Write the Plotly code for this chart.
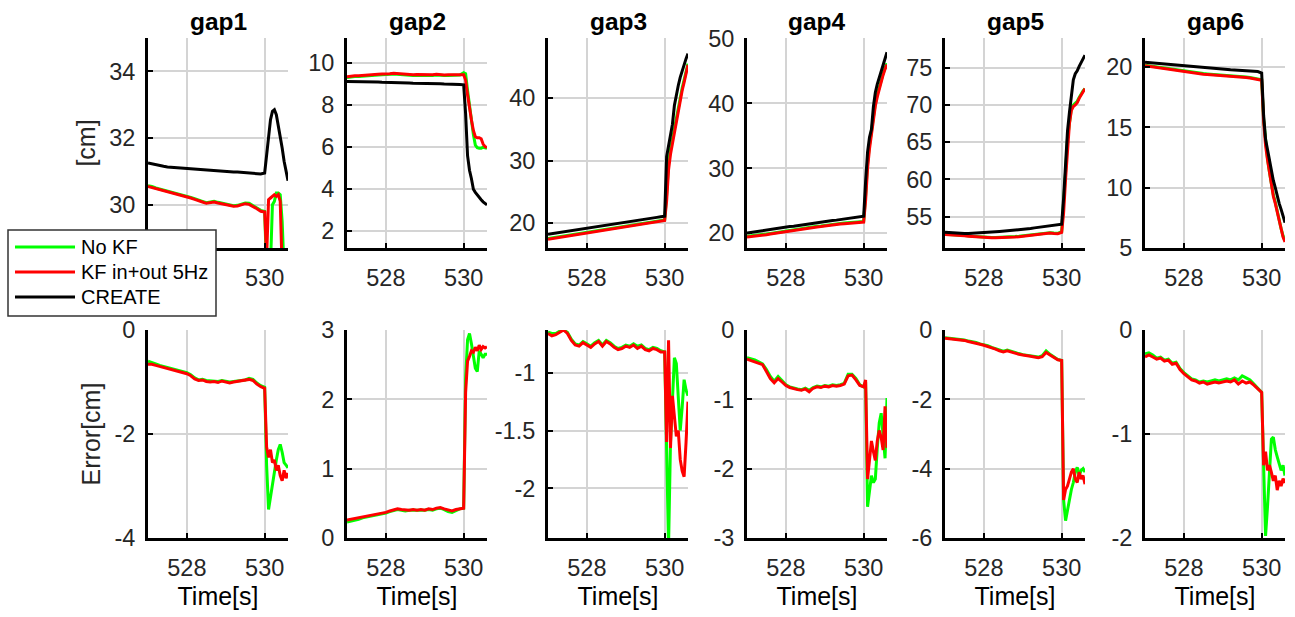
import plotly.graph_objects as go
from plotly.subplots import make_subplots

# ---------------------------------------------------------------- data
# common time base [s]
T = [527.0, 527.1, 527.2, 527.3, 527.4, 527.5, 527.6, 527.7, 527.8, 527.9,
     528.0, 528.1, 528.2, 528.3, 528.4, 528.5, 528.6, 528.7, 528.8, 528.9,
     529.0, 529.1, 529.2, 529.3, 529.4, 529.5, 529.6, 529.7, 529.8, 529.9,
     530.0, 530.05, 530.1, 530.15, 530.2, 530.25, 530.3, 530.35, 530.4, 530.45,
     530.5, 530.55, 530.6]

GAPS = ["gap1", "gap2", "gap3", "gap4", "gap5", "gap6"]
SERIES = ["No KF", "KF in+out 5Hz", "CREATE"]

# gap values [cm]
gap1_nokf = [30.57, 30.55, 30.50, 30.47, 30.45, 30.40, 30.38, 30.36, 30.32, 30.30,
             30.26, 30.22, 30.18, 30.13, 30.10, 30.06, 30.08, 30.10, 30.07, 30.05,
             30.02, 29.99, 29.97, 29.98, 30.02, 30.05, 30.04, 29.97, 29.90, 29.83,
             29.80, 28.0, 28.0, 28.2, 30.0, 30.1, 30.35, 30.35, 30.3, 29.5, 28.0, 28.0, 28.0]
gap1_kf = [30.55, 30.52, 30.48, 30.45, 30.42, 30.38, 30.36, 30.33, 30.30, 30.27,
           30.24, 30.20, 30.16, 30.11, 30.08, 30.04, 30.06, 30.08, 30.05, 30.02,
           30.00, 29.97, 29.95, 29.96, 30.00, 30.03, 30.01, 29.95, 29.88, 29.80,
           29.78, 28.4, 30.15, 30.2, 30.25, 30.3, 30.25, 30.3, 30.1, 28.0, 28.0, 28.0, 28.0]
gap1_create = [31.25, 31.22, 31.19, 31.17, 31.15, 31.13, 31.12, 31.11, 31.10, 31.09,
               31.08, 31.07, 31.06, 31.05, 31.04, 31.04, 31.03, 31.02, 31.01, 31.01,
               31.00, 30.99, 30.98, 30.98, 30.97, 30.96, 30.95, 30.94, 30.93, 30.92,
               30.95, 31.5, 32.1, 32.55, 32.8, 32.85, 32.7, 32.4, 32.0, 31.7, 31.3, 31.0, 30.72]

gap2_nokf = [9.32, 9.35, 9.37, 9.37, 9.39, 9.41, 9.42, 9.42, 9.44, 9.45,
             9.45, 9.47, 9.49, 9.47, 9.45, 9.44, 9.43, 9.42, 9.43, 9.42,
             9.42, 9.43, 9.42, 9.44, 9.42, 9.41, 9.42, 9.43, 9.42, 9.44,
             9.55, 9.50, 8.7, 7.9, 7.2, 6.6, 6.1, 5.98, 5.95, 5.95, 6.0, 5.97, 5.95]
gap2_kf = [9.35, 9.38, 9.40, 9.40, 9.42, 9.44, 9.45, 9.45, 9.47, 9.48,
           9.48, 9.50, 9.52, 9.50, 9.48, 9.47, 9.46, 9.45, 9.46, 9.45,
           9.45, 9.46, 9.45, 9.47, 9.45, 9.44, 9.45, 9.46, 9.45, 9.45,
           9.45, 9.2, 8.5, 7.8, 7.3, 6.8, 6.5, 6.45, 6.45, 6.4, 6.15, 6.03, 5.98]
gap2_create = [9.13, 9.13, 9.12, 9.12, 9.11, 9.11, 9.10, 9.10, 9.10, 9.09,
               9.09, 9.08, 9.08, 9.07, 9.07, 9.06, 9.06, 9.05, 9.05, 9.04,
               9.04, 9.03, 9.03, 9.02, 9.02, 9.01, 9.01, 9.00, 9.00, 8.99,
               8.97, 7.6, 5.6, 4.9, 4.5, 4.0, 3.85, 3.72, 3.6, 3.5, 3.4, 3.3, 3.25]

gap3_nokf = [17.5, 17.6, 17.7, 17.8, 17.95, 18.05, 18.15, 18.25, 18.4, 18.5,
             18.6, 18.7, 18.8, 18.9, 19.0, 19.1, 19.15, 19.25, 19.35, 19.45,
             19.55, 19.65, 19.7, 19.8, 19.9, 20.0, 20.1, 20.2, 20.3, 20.4,
             20.5, 24.5, 29.5, 31.8, 33.5, 35.2, 37.0, 38.7, 40.3, 41.6, 42.9, 44.2, 45.5]
gap3_kf = [17.4, 17.5, 17.6, 17.7, 17.85, 17.95, 18.05, 18.15, 18.3, 18.4,
           18.5, 18.6, 18.7, 18.8, 18.9, 19.0, 19.05, 19.15, 19.25, 19.35,
           19.45, 19.55, 19.6, 19.7, 19.8, 19.9, 20.0, 20.1, 20.2, 20.3,
           20.4, 23.5, 28.5, 31.0, 32.7, 34.5, 36.5, 38.2, 39.8, 41.2, 42.5, 43.9, 45.3]
gap3_create = [18.2, 18.3, 18.4, 18.5, 18.6, 18.7, 18.8, 18.9, 19.0, 19.1,
               19.2, 19.3, 19.4, 19.5, 19.6, 19.7, 19.8, 19.9, 20.0, 20.1,
               20.2, 20.3, 20.35, 20.45, 20.5, 20.6, 20.7, 20.8, 20.9, 21.0,
               21.1, 30.6, 32.5, 34.2, 35.8, 38.8, 40.6, 42.0, 43.3, 44.4, 45.4, 46.3, 47.1]

gap4_nokf = [19.5, 19.55, 19.6, 19.7, 19.75, 19.85, 19.95, 20.05, 20.1, 20.2,
             20.3, 20.4, 20.5, 20.6, 20.65, 20.75, 20.85, 20.95, 21.05, 21.1,
             21.2, 21.3, 21.35, 21.4, 21.5, 21.55, 21.6, 21.65, 21.7, 21.7,
             21.8, 25.8, 30.8, 33.6, 36.0, 38.2, 40.0, 41.4, 42.6, 43.6, 44.6, 45.5, 46.2]
gap4_kf = [19.4, 19.45, 19.5, 19.6, 19.65, 19.75, 19.85, 19.95, 20.0, 20.1,
           20.2, 20.3, 20.4, 20.5, 20.55, 20.65, 20.75, 20.85, 20.95, 21.0,
           21.1, 21.2, 21.25, 21.3, 21.4, 21.45, 21.5, 21.55, 21.6, 21.6,
           21.7, 25.0, 30.0, 33.0, 35.5, 37.8, 39.6, 41.0, 42.3, 43.4, 44.4, 45.3, 46.0]
gap4_create = [20.0, 20.1, 20.2, 20.25, 20.35, 20.45, 20.55, 20.6, 20.7, 20.8,
               20.9, 21.0, 21.05, 21.15, 21.25, 21.35, 21.4, 21.5, 21.6, 21.7,
               21.75, 21.85, 21.95, 22.0, 22.1, 22.2, 22.25, 22.35, 22.45, 22.5,
               22.6, 28.0, 32.5, 34.8, 36.0, 39.5, 41.7, 43.0, 44.0, 45.2, 46.0, 47.0, 47.9]

gap5_nokf = [52.65, 52.63, 52.6, 52.55, 52.52, 52.48, 52.43, 52.38, 52.33, 52.29,
             52.25, 52.23, 52.22, 52.21, 52.22, 52.25, 52.27, 52.3, 52.33, 52.37,
             52.43, 52.47, 52.51, 52.57, 52.63, 52.7, 52.77, 52.85, 52.8, 52.77,
             53.0, 56.5, 61.0, 65.5, 68.0, 69.6, 70.0, 70.2, 70.5, 71.0, 71.5, 71.9, 72.2]
gap5_kf = [52.6, 52.58, 52.55, 52.5, 52.47, 52.43, 52.38, 52.33, 52.28, 52.24,
           52.2, 52.18, 52.17, 52.16, 52.17, 52.2, 52.22, 52.25, 52.28, 52.32,
           52.38, 52.42, 52.46, 52.52, 52.58, 52.65, 52.72, 52.8, 52.75, 52.72,
           52.9, 55.5, 60.0, 64.5, 67.5, 69.3, 69.8, 70.0, 70.3, 70.9, 71.4, 71.9, 72.2]
gap5_create = [52.9, 52.85, 52.8, 52.78, 52.76, 52.75, 52.76, 52.78, 52.8, 52.83,
               52.86, 52.9, 52.94, 52.98, 53.02, 53.06, 53.1, 53.15, 53.2, 53.25,
               53.3, 53.35, 53.42, 53.5, 53.56, 53.62, 53.7, 53.76, 53.82, 53.9,
               54.0, 57.5, 63.0, 66.5, 69.0, 71.5, 73.4, 74.2, 74.6, 75.2, 75.7, 76.2, 76.7]

gap6_nokf = [20.15, 20.1, 20.05, 20.0, 19.95, 19.9, 19.85, 19.8, 19.75, 19.7,
             19.65, 19.6, 19.55, 19.5, 19.47, 19.45, 19.42, 19.4, 19.38, 19.35,
             19.33, 19.3, 19.27, 19.25, 19.23, 19.2, 19.17, 19.13, 19.09, 19.05,
             18.95, 15.7, 13.7, 12.4, 11.3, 10.3, 9.4, 8.8, 8.0, 7.3, 6.6, 6.0, 5.6]
gap6_kf = [20.1, 20.05, 20.0, 19.95, 19.9, 19.85, 19.8, 19.75, 19.7, 19.65,
           19.6, 19.55, 19.5, 19.45, 19.42, 19.4, 19.37, 19.35, 19.33, 19.3,
           19.28, 19.25, 19.22, 19.2, 19.18, 19.15, 19.12, 19.08, 19.04, 19.0,
           18.9, 15.5, 13.5, 12.3, 11.2, 10.2, 9.3, 8.7, 7.9, 7.3, 6.6, 5.9, 5.5]
gap6_create = [20.4, 20.37, 20.34, 20.3, 20.27, 20.24, 20.2, 20.17, 20.14, 20.1,
               20.07, 20.04, 20.0, 19.97, 19.94, 19.92, 19.9, 19.87, 19.85, 19.82,
               19.8, 19.78, 19.76, 19.74, 19.72, 19.7, 19.68, 19.66, 19.64, 19.62,
               19.5, 16.0, 14.0, 13.1, 12.2, 11.3, 10.6, 10.0, 9.3, 8.7, 8.2, 7.6, 7.1]

# estimation error [cm]
err1_nokf = [-0.60, -0.62, -0.65, -0.68, -0.70, -0.72, -0.74, -0.76, -0.78, -0.80,
             -0.82, -0.86, -0.92, -0.96, -0.95, -0.97, -0.98, -0.98, -0.99, -0.97,
             -0.98, -1.00, -0.99, -0.98, -0.97, -0.96, -0.93, -0.95, -1.02, -1.07,
             -1.10, -2.6, -3.45, -3.2, -3.0, -2.7, -2.5, -2.3, -2.2, -2.35, -2.55, -2.6, -2.65]
err1_kf = [-0.66, -0.66, -0.68, -0.70, -0.72, -0.74, -0.76, -0.79, -0.80, -0.82,
           -0.84, -0.88, -0.94, -0.97, -0.96, -0.99, -1.00, -0.99, -1.01, -0.98,
           -1.00, -1.02, -1.00, -0.99, -0.98, -0.97, -0.95, -0.97, -1.04, -1.09,
           -1.12, -2.25, -2.45, -2.3, -2.55, -2.5, -2.7, -2.6, -2.8, -2.9, -2.7, -2.85, -2.75]

err2_nokf = [0.23, 0.24, 0.26, 0.27, 0.29, 0.30, 0.31, 0.33, 0.34, 0.35,
             0.36, 0.38, 0.40, 0.41, 0.40, 0.39, 0.40, 0.40, 0.39, 0.40,
             0.40, 0.41, 0.40, 0.42, 0.43, 0.41, 0.38, 0.37, 0.40, 0.42,
             0.43, 2.3, 2.86, 2.95, 2.8, 2.62, 2.45, 2.4, 2.7, 2.65, 2.6, 2.65, 2.65]
err2_kf = [0.26, 0.27, 0.28, 0.29, 0.30, 0.31, 0.32, 0.34, 0.35, 0.36,
           0.37, 0.39, 0.41, 0.42, 0.41, 0.40, 0.40, 0.41, 0.40, 0.41,
           0.40, 0.42, 0.41, 0.43, 0.44, 0.42, 0.40, 0.39, 0.41, 0.42,
           0.43, 2.1, 2.55, 2.62, 2.7, 2.68, 2.75, 2.7, 2.78, 2.72, 2.76, 2.74, 2.76]

err3_nokf = [-0.65, -0.66, -0.66, -0.64, -0.63, -0.65, -0.71, -0.75, -0.76, -0.73,
             -0.75, -0.77, -0.74, -0.72, -0.76, -0.72, -0.74, -0.77, -0.79, -0.78,
             -0.76, -0.77, -0.75, -0.77, -0.76, -0.79, -0.80, -0.78, -0.79, -0.81,
             -0.82, -1.7, -2.5, -1.6, -1.2, -0.87, -0.92, -1.2, -1.5, -1.3, -1.06, -1.15, -1.2]
err3_kf = [-0.66, -0.68, -0.67, -0.65, -0.63, -0.66, -0.72, -0.76, -0.77, -0.74,
           -0.76, -0.78, -0.75, -0.73, -0.77, -0.73, -0.75, -0.78, -0.80, -0.79,
           -0.77, -0.78, -0.76, -0.79, -0.77, -0.80, -0.81, -0.79, -0.80, -0.82,
           -0.82, -1.6, -0.72, -1.65, -1.2, -1.35, -1.55, -1.5, -1.75, -1.85, -1.9, -1.6, -1.25]

err4_nokf = [-0.40, -0.41, -0.43, -0.46, -0.49, -0.57, -0.67, -0.74, -0.67, -0.73,
             -0.79, -0.82, -0.84, -0.85, -0.86, -0.84, -0.87, -0.83, -0.81, -0.82,
             -0.80, -0.81, -0.79, -0.80, -0.79, -0.77, -0.64, -0.64, -0.70, -0.79,
             -0.82, -0.75, -2.55, -2.3, -2.1, -2.2, -2.15, -1.7, -1.34, -1.2, -1.5, -1.85, -0.98]
err4_kf = [-0.42, -0.44, -0.46, -0.48, -0.50, -0.60, -0.70, -0.76, -0.70, -0.75,
           -0.80, -0.83, -0.85, -0.86, -0.87, -0.85, -0.89, -0.84, -0.82, -0.83,
           -0.81, -0.82, -0.80, -0.81, -0.80, -0.78, -0.66, -0.65, -0.72, -0.80,
           -0.82, -0.72, -2.15, -1.9, -1.6, -1.75, -1.88, -1.6, -1.45, -1.55, -1.73, -1.1, -1.7]

err5_nokf = [-0.22, -0.23, -0.25, -0.26, -0.27, -0.29, -0.32, -0.33, -0.36, -0.40,
             -0.42, -0.45, -0.50, -0.54, -0.58, -0.61, -0.58, -0.62, -0.66, -0.68,
             -0.71, -0.73, -0.75, -0.77, -0.78, -0.74, -0.60, -0.70, -0.78, -0.85,
             -0.88, -4.9, -5.5, -5.2, -4.8, -4.6, -4.4, -4.1, -3.96, -4.2, -4.05, -4.0, -4.1]
err5_kf = [-0.24, -0.25, -0.26, -0.27, -0.28, -0.30, -0.33, -0.35, -0.38, -0.41,
           -0.44, -0.47, -0.52, -0.55, -0.60, -0.63, -0.60, -0.64, -0.68, -0.70,
           -0.72, -0.75, -0.76, -0.78, -0.80, -0.77, -0.65, -0.72, -0.80, -0.86,
           -0.88, -4.9, -4.6, -4.5, -4.3, -4.1, -4.0, -4.3, -4.4, -4.1, -4.3, -4.2, -4.45]

err6_nokf = [-0.23, -0.22, -0.24, -0.27, -0.26, -0.29, -0.28, -0.32, -0.31, -0.37,
             -0.41, -0.44, -0.47, -0.48, -0.50, -0.49, -0.50, -0.49, -0.48, -0.49,
             -0.48, -0.47, -0.48, -0.46, -0.48, -0.44, -0.46, -0.48, -0.52, -0.56,
             -0.60, -1.3, -1.98, -1.7, -1.3, -1.05, -1.03, -1.15, -1.22, -1.28, -1.35, -1.3, -1.4]
err6_kf = [-0.26, -0.24, -0.26, -0.28, -0.27, -0.30, -0.29, -0.33, -0.32, -0.38,
           -0.42, -0.45, -0.48, -0.49, -0.51, -0.50, -0.52, -0.51, -0.50, -0.51,
           -0.50, -0.49, -0.50, -0.48, -0.52, -0.49, -0.51, -0.50, -0.53, -0.57,
           -0.60, -1.3, -1.17, -1.35, -1.3, -1.37, -1.45, -1.4, -1.54, -1.45, -1.5, -1.43, -1.47]

# axis ranges and tick labels
x_range = [527.0, 530.6]
x_ticks = [528, 530]
gap_ranges = [[28.7, 35.0], [1.2, 11.2], [16.0, 49.6], [17.7, 50.1], [50.8, 79.0], [5.0, 22.4]]
gap_ticks = [[30, 32, 34], [2, 4, 6, 8, 10], [20, 30, 40], [20, 30, 40, 50],
             [55, 60, 65, 70, 75], [5, 10, 15, 20]]
err_ranges = [[-4, 0], [0, 3], [-2.43, -0.63], [-3, 0], [-6, 0], [-2, 0]]
err_ticks = [[-4, -2, 0], [0, 1, 2, 3], [-2, -1.5, -1], [-3, -2, -1, 0],
             [-6, -4, -2, 0], [-2, -1, 0]]

gap_data = [(gap1_nokf, gap1_kf, gap1_create), (gap2_nokf, gap2_kf, gap2_create),
            (gap3_nokf, gap3_kf, gap3_create), (gap4_nokf, gap4_kf, gap4_create),
            (gap5_nokf, gap5_kf, gap5_create), (gap6_nokf, gap6_kf, gap6_create)]
err_data = [(err1_nokf, err1_kf), (err2_nokf, err2_kf), (err3_nokf, err3_kf),
            (err4_nokf, err4_kf), (err5_nokf, err5_kf), (err6_nokf, err6_kf)]

for group in gap_data + err_data:
    for s in group:
        if len(s) != len(T):
            raise ValueError("series length mismatch")

# ---------------------------------------------------------------- style
W, H = 1295, 617
FONT = "Arial, Liberation Sans, sans-serif"
TXT = "#262626"
COLORS = ["#00ff00", "#ff0000", "#000000"]
LW = 3

col_left = [148, 347, 548, 747, 945, 1145]
panel_w = 140
row_px = [(38, 248), (330, 538)]


def px_x(v):
    return v / W


def px_y(v):
    return 1 - v / H


def labels(vals):
    # plain hyphen-minus, no thousands separators
    return ["%g" % v for v in vals]


fig = make_subplots(rows=2, cols=6)

for c in range(6):
    for k, s in enumerate(gap_data[c]):
        fig.add_trace(go.Scatter(x=T, y=s, mode="lines", name=SERIES[k],
                                 line=dict(color=COLORS[k], width=LW),
                                 showlegend=False), row=1, col=c + 1)
    for k, s in enumerate(err_data[c]):
        fig.add_trace(go.Scatter(x=T, y=s, mode="lines", name=SERIES[k],
                                 line=dict(color=COLORS[k], width=LW),
                                 showlegend=False), row=2, col=c + 1)

axis_common = dict(showline=True, linecolor="black", linewidth=3, mirror=False,
                   showgrid=True, gridcolor="#d4d4d4", gridwidth=2, zeroline=False,
                   ticks="inside", ticklen=5, tickwidth=2, tickcolor="black",
                   tickfont=dict(family=FONT, size=23.5, color=TXT))

for r in range(2):
    for c in range(6):
        dom_x = [px_x(col_left[c]), px_x(col_left[c] + panel_w)]
        dom_y = [px_y(row_px[r][1]), px_y(row_px[r][0])]
        yr = gap_ranges[c] if r == 0 else err_ranges[c]
        yt = gap_ticks[c] if r == 0 else err_ticks[c]
        xt_text = labels(x_ticks)
        if r == 0 and c == 0:
            # the legend box sits over this label
            xt_text = [""] + xt_text[1:]
        fig.update_xaxes(axis_common, domain=dom_x, range=x_range, tickvals=x_ticks,
                         ticktext=xt_text, ticklabelstandoff=7, row=r + 1, col=c + 1)
        fig.update_yaxes(axis_common, domain=dom_y, range=yr, tickvals=yt,
                         ticktext=labels(yt), ticklabelstandoff=5, row=r + 1, col=c + 1)
        if r == 1:
            fig.update_xaxes(title=dict(text="Time[s]", standoff=8,
                                        font=dict(family=FONT, size=25, color="black")),
                             row=2, col=c + 1)

fig.update_yaxes(title=dict(text="[cm]", standoff=7,
                            font=dict(family=FONT, size=25, color=TXT)), row=1, col=1)
fig.update_yaxes(title=dict(text="Error[cm]", standoff=7,
                            font=dict(family=FONT, size=25, color=TXT)), row=2, col=1)

# panel titles
for c, name in enumerate(GAPS):
    fig.add_annotation(text="<b>%s</b>" % name, xref="paper", yref="paper",
                       x=px_x(col_left[c] + panel_w / 2), y=px_y(22),
                       xanchor="center", yanchor="middle", showarrow=False,
                       font=dict(family=FONT, size=24.5, color="black"))

# legend box drawn over the first panel
leg_x0, leg_x1, leg_y0, leg_y1 = 8, 216, 230, 316
fig.add_shape(type="rect", xref="paper", yref="paper",
              x0=px_x(leg_x0), x1=px_x(leg_x1), y0=px_y(leg_y1), y1=px_y(leg_y0),
              fillcolor="white", line=dict(color="#333333", width=1.5), layer="above")
for k, label in enumerate(SERIES):
    yy = 247 + 25 * k
    fig.add_shape(type="line", xref="paper", yref="paper",
                  x0=px_x(15), x1=px_x(75), y0=px_y(yy), y1=px_y(yy),
                  line=dict(color=COLORS[k], width=LW), layer="above")
    fig.add_annotation(text=label, xref="paper", yref="paper", x=px_x(79), y=px_y(yy),
                       xanchor="left", yanchor="middle", showarrow=False,
                       font=dict(family=FONT, size=20, color="black"))

fig.update_layout(template="none", width=W, height=H, autosize=False,
                  margin=dict(l=0, r=0, t=0, b=0), showlegend=False,
                  paper_bgcolor="white", plot_bgcolor="white",
                  font=dict(family=FONT, color=TXT))

fig.write_html("out.html")
